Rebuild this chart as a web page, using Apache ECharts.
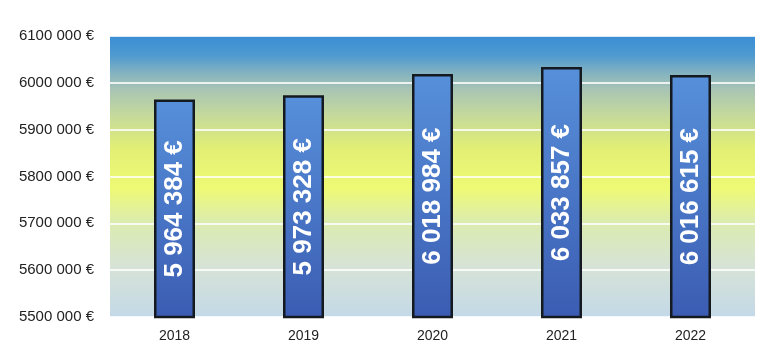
<!DOCTYPE html>
<html>
<head>
<meta charset="utf-8">
<style>
  html, body { margin: 0; padding: 0; background: #ffffff; }
  #chart { width: 769px; height: 349px; }
</style>
<script src="https://cdn.jsdelivr.net/npm/echarts@6/dist/echarts.min.js"></script>
</head>
<body>
<div id="chart"></div>
<script>
// Annual totals in euros
const years = ['2018', '2019', '2020', '2021', '2022'];
const totals = [5964384, 5973328, 6018984, 6033857, 6016615];
const yTickLabels = ['5500 000 €', '5600 000 €', '5700 000 €', '5800 000 €', '5900 000 €', '6000 000 €', '6100 000 €'];
const yMin = 5500000;
const yMax = 6100000;
const yStep = 100000;

// "5964384" -> "5 964 384 €"
function spacedEuro(v) {
  return String(Math.round(v)).replace(/\B(?=(\d{3})+(?!\d))/g, ' ') + ' €';
}

const chart = echarts.init(document.getElementById('chart'), null, { renderer: 'canvas' });

chart.setOption({
  animation: false,
  grid: {
    left: 110, right: 14, top: 36, bottom: 32,
    show: true,
    borderWidth: 0,
    backgroundColor: new echarts.graphic.LinearGradient(0, 0, 0, 1, [
      { offset: 0.00, color: '#3a8ed6' },
      { offset: 0.07, color: '#4f9ad0' },
      { offset: 0.13, color: '#82b2c0' },
      { offset: 0.19, color: '#a8c4b4' },
      { offset: 0.28, color: '#c4d99c' },
      { offset: 0.40, color: '#e2ef74' },
      { offset: 0.54, color: '#eefa74' },
      { offset: 0.66, color: '#dcecae' },
      { offset: 0.82, color: '#d6e3d6' },
      { offset: 1.00, color: '#c4d9e8' }
    ])
  },
  xAxis: {
    type: 'category',
    data: years,
    axisLine: { show: false },
    axisTick: { show: false },
    axisLabel: {
      color: '#222222',
      fontFamily: 'Liberation Sans, Arial, sans-serif',
      fontSize: 14,
      margin: 12
    }
  },
  yAxis: {
    type: 'value',
    min: yMin,
    max: yMax,
    interval: yStep,
    axisLine: { show: false },
    axisTick: { show: false },
    splitLine: { show: true, lineStyle: { color: 'rgba(255,255,255,0.8)', width: 2 } },
    axisLabel: {
      color: '#222222',
      fontFamily: 'Liberation Sans, Arial, sans-serif',
      fontSize: 15,
      margin: 16,
      formatter: function (v) {
        const i = Math.round((v - yMin) / yStep);
        return yTickLabels[i] !== undefined ? yTickLabels[i] : '';
      }
    }
  },
  series: [{
    type: 'bar',
    data: totals,
    barWidth: 41,
    itemStyle: {
      color: new echarts.graphic.LinearGradient(0, 0, 0, 1, [
        { offset: 0, color: '#5790da' },
        { offset: 1, color: '#3b5cb2' }
      ]),
      borderColor: '#151a20',
      borderWidth: 2.5
    },
    label: {
      show: true,
      position: 'inside',
      rotate: 90,
      color: '#ffffff',
      fontFamily: 'Liberation Sans, Arial, sans-serif',
      fontWeight: 'bold',
      fontSize: 26,
      formatter: function (p) { return spacedEuro(p.value); }
    }
  }]
});
</script>
</body>
</html>
